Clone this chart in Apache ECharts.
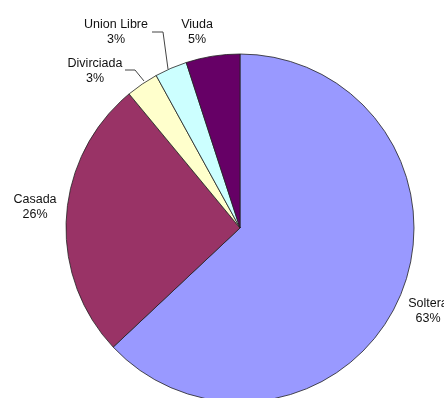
<!DOCTYPE html>
<html>
<head>
<meta charset="utf-8">
<script src="https://cdn.jsdelivr.net/npm/echarts@6/dist/echarts.min.js"></script>
<style>
  html, body { margin: 0; padding: 0; background: #fff; }
  #chart { width: 444px; height: 398px; }
</style>
</head>
<body>
<div id="chart"></div>
<script>
// Estado civil: share of each category (percent)
const categories = ['Soltera', 'Casada', 'Divirciada', 'Union Libre', 'Viuda'];
const shares = [63, 26, 3, 3, 5];
const sliceColors = ['#9999FF', '#993366', '#FFFFCC', '#CCFFFF', '#660066'];

// Label placement (text block centre) and leader lines, per category
const labelSpots = [
  { x: 428, y: 311 },
  { x: 35, y: 207 },
  { x: 95, y: 71 },
  { x: 116, y: 32 },
  { x: 197, y: 32 }
];
const leaderLines = [
  null,
  null,
  [[125, 70], [135, 70], [144, 81]],
  [[152, 32], [163, 32], [168, 69]],
  null
];

const chart = echarts.init(document.getElementById('chart'), null, { renderer: 'canvas' });

chart.setOption({
  animation: false,
  backgroundColor: '#ffffff',
  series: [{
    type: 'pie',
    center: [240, 228],
    radius: 174,
    startAngle: 90,
    clockwise: true,
    data: categories.map((name, i) => ({
      name: name,
      value: shares[i],
      itemStyle: { color: sliceColors[i] },
      labelLine: { show: !!leaderLines[i] }
    })),
    itemStyle: { borderColor: '#222', borderWidth: 0.8 },
    label: {
      show: true,
      formatter: (p) => p.name + '\n' + p.value + '%',
      fontFamily: 'Liberation Sans, Arial, sans-serif',
      fontSize: 12.5,
      color: '#111',
      lineHeight: 15,
      align: 'center',
      overflow: 'none',
      width: null
    },
    labelLine: {
      show: true,
      lineStyle: { color: '#444', width: 1 }
    },
    labelLayout: function (params) {
      const i = params.dataIndex;
      const spot = labelSpots[i];
      const out = {
        x: spot.x,
        y: spot.y,
        align: 'center',
        verticalAlign: 'middle',
        hideOverlap: false
      };
      if (leaderLines[i]) out.labelLinePoints = leaderLines[i];
      return out;
    },
    emphasis: { disabled: true }
  }]
});
</script>
</body>
</html>
